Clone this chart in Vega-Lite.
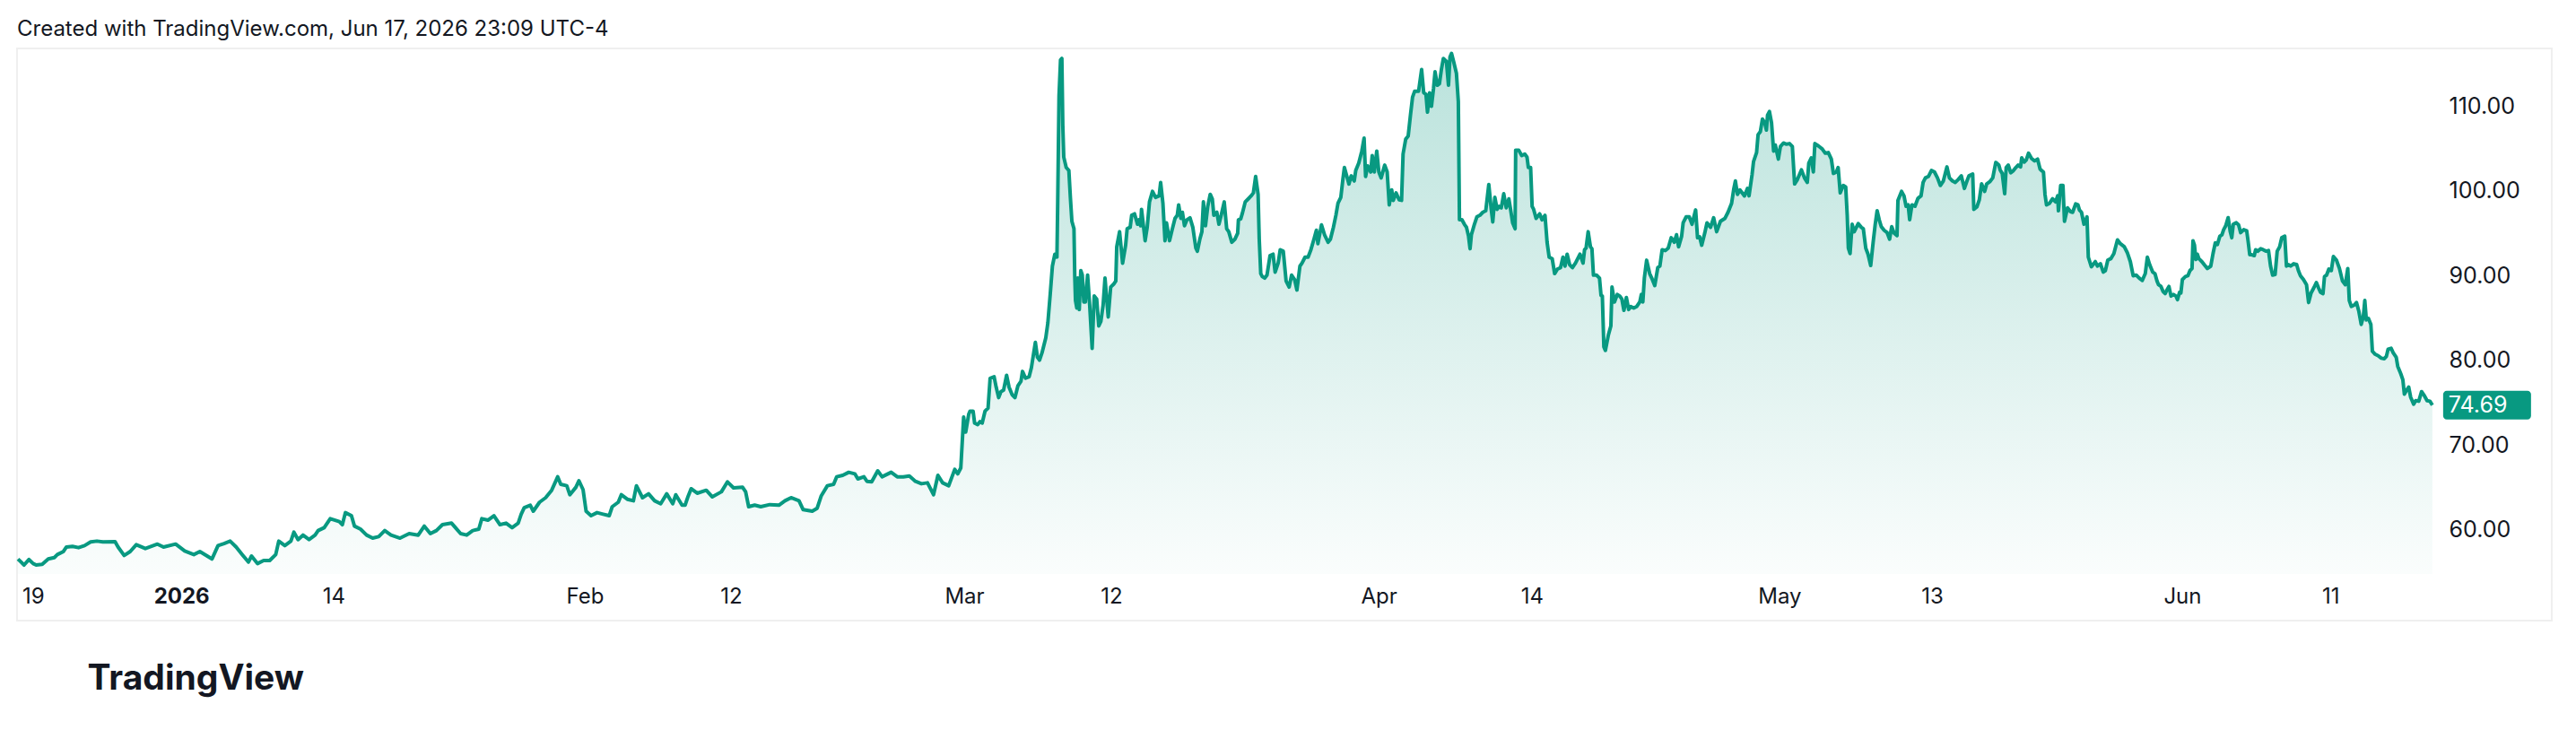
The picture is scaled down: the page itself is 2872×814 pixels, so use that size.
{
  "$schema": "https://vega.github.io/schema/vega-lite/v6.json",
  "description": "Price chart in the TradingView snapshot style: area under a teal line, price axis on the right.",
  "width": 2826,
  "height": 638,
  "autosize": {"type": "none"},
  "padding": {"left": 19, "top": 54, "right": 27, "bottom": 122},
  "background": "#ffffff",
  "title": {
    "text": "Created with TradingView.com, Jun 17, 2026 23:09 UTC-4",
    "anchor": "start",
    "frame": "group",
    "offset": 9,
    "font": "Inter",
    "fontSize": 24,
    "fontWeight": "normal",
    "color": "#131722"
  },
  "datasets": {
    "series": [
      {"t":0,"price":56.53},{"t":0.16,"price":56.17},{"t":0.32,"price":55.82},{"t":0.58,"price":56.46},{"t":0.8,"price":55.99},{"t":0.96,"price":55.82},{"t":1.28,"price":55.89},{"t":1.6,"price":56.53},{"t":1.92,"price":56.7},{"t":2.08,"price":57.05},{"t":2.4,"price":57.41},{"t":2.56,"price":57.94},{"t":2.88,"price":58.01},{"t":3.2,"price":57.87},{"t":3.52,"price":58.11},{"t":3.84,"price":58.54},{"t":4.17,"price":58.64},{"t":4.49,"price":58.54},{"t":5.13,"price":58.57},{"t":5.29,"price":57.94},{"t":5.61,"price":56.95},{"t":5.93,"price":57.41},{"t":6.25,"price":58.22},{"t":6.73,"price":57.76},{"t":7.37,"price":58.29},{"t":7.69,"price":57.94},{"t":8.33,"price":58.29},{"t":8.81,"price":57.48},{"t":9.29,"price":57.05},{"t":9.61,"price":57.41},{"t":10.25,"price":56.53},{"t":10.57,"price":58.11},{"t":10.89,"price":58.36},{"t":11.21,"price":58.64},{"t":11.53,"price":57.94},{"t":11.85,"price":57.05},{"t":12.18,"price":56.17},{"t":12.34,"price":56.88},{"t":12.66,"price":55.99},{"t":12.98,"price":56.35},{"t":13.3,"price":56.35},{"t":13.62,"price":57.05},{"t":13.78,"price":58.64},{"t":14.1,"price":58.11},{"t":14.42,"price":58.64},{"t":14.58,"price":59.7},{"t":14.8,"price":58.82},{"t":15.06,"price":59.35},{"t":15.38,"price":58.82},{"t":15.7,"price":59.35},{"t":15.86,"price":59.88},{"t":16.18,"price":60.23},{"t":16.5,"price":61.29},{"t":16.98,"price":60.94},{"t":17.14,"price":60.58},{"t":17.3,"price":62.0},{"t":17.62,"price":61.64},{"t":17.78,"price":60.41},{"t":18.1,"price":60.05},{"t":18.42,"price":59.35},{"t":18.74,"price":58.99},{"t":19.06,"price":59.17},{"t":19.38,"price":59.88},{"t":19.71,"price":59.35},{"t":20.19,"price":58.99},{"t":20.67,"price":59.52},{"t":21.15,"price":59.35},{"t":21.47,"price":60.41},{"t":21.79,"price":59.52},{"t":22.11,"price":59.88},{"t":22.43,"price":60.58},{"t":22.91,"price":60.76},{"t":23.39,"price":59.52},{"t":23.71,"price":59.35},{"t":24.03,"price":59.88},{"t":24.35,"price":60.05},{"t":24.51,"price":61.29},{"t":24.83,"price":61.11},{"t":25.15,"price":61.64},{"t":25.47,"price":60.58},{"t":25.79,"price":60.76},{"t":26.11,"price":60.23},{"t":26.43,"price":60.76},{"t":26.59,"price":61.82},{"t":26.75,"price":62.59},{"t":27.07,"price":62.88},{"t":27.23,"price":62.17},{"t":27.56,"price":63.23},{"t":27.88,"price":63.76},{"t":28.2,"price":64.64},{"t":28.52,"price":66.23},{"t":28.68,"price":65.34},{"t":29.0,"price":65.17},{"t":29.16,"price":64.11},{"t":29.48,"price":64.99},{"t":29.64,"price":65.77},{"t":29.86,"price":64.71},{"t":30.02,"price":62.17},{"t":30.28,"price":61.64},{"t":30.6,"price":62.0},{"t":30.92,"price":61.82},{"t":31.24,"price":61.64},{"t":31.4,"price":62.7},{"t":31.72,"price":63.23},{"t":31.88,"price":64.11},{"t":32.2,"price":63.58},{"t":32.52,"price":63.4},{"t":32.68,"price":65.17},{"t":33.0,"price":63.76},{"t":33.32,"price":64.22},{"t":33.64,"price":63.4},{"t":33.96,"price":63.05},{"t":34.28,"price":64.22},{"t":34.6,"price":63.05},{"t":34.76,"price":64.11},{"t":35.09,"price":62.88},{"t":35.25,"price":62.88},{"t":35.41,"price":63.93},{"t":35.57,"price":64.82},{"t":35.89,"price":64.29},{"t":36.37,"price":64.64},{"t":36.69,"price":63.86},{"t":37.17,"price":64.46},{"t":37.49,"price":65.63},{"t":37.81,"price":64.92},{"t":38.29,"price":64.99},{"t":38.45,"price":64.46},{"t":38.61,"price":62.7},{"t":38.93,"price":62.88},{"t":39.25,"price":62.7},{"t":39.73,"price":62.95},{"t":40.21,"price":62.88},{"t":40.53,"price":63.4},{"t":40.85,"price":63.76},{"t":41.27,"price":63.4},{"t":41.49,"price":62.35},{"t":41.97,"price":62.17},{"t":42.23,"price":62.52},{"t":42.45,"price":64.0},{"t":42.77,"price":65.17},{"t":43.1,"price":65.34},{"t":43.26,"price":66.23},{"t":43.58,"price":66.4},{"t":43.9,"price":66.76},{"t":44.22,"price":66.58},{"t":44.38,"price":65.98},{"t":44.7,"price":66.23},{"t":44.86,"price":65.7},{"t":45.11,"price":65.63},{"t":45.43,"price":66.93},{"t":45.66,"price":66.23},{"t":46.14,"price":66.76},{"t":46.46,"price":66.23},{"t":46.78,"price":66.23},{"t":47.1,"price":66.33},{"t":47.42,"price":65.7},{"t":47.74,"price":65.41},{"t":48.06,"price":65.52},{"t":48.38,"price":64.11},{"t":48.61,"price":66.4},{"t":48.86,"price":65.52},{"t":49.18,"price":65.17},{"t":49.5,"price":67.11},{"t":49.66,"price":66.58},{"t":49.82,"price":67.28},
      {"t":49.97,"price":73.28},{"t":50.08,"price":71.51},{"t":50.24,"price":73.63},{"t":50.31,"price":73.98},{"t":50.47,"price":73.98},{"t":50.55,"price":72.57},{"t":50.71,"price":72.39},{"t":50.84,"price":72.75},{"t":50.95,"price":72.57},{"t":51.1,"price":73.98},{"t":51.26,"price":74.33},{"t":51.37,"price":77.86},{"t":51.58,"price":78.04},{"t":51.69,"price":76.8},{"t":51.82,"price":75.57},{"t":51.94,"price":76.27},{"t":52.08,"price":76.45},{"t":52.24,"price":78.21},{"t":52.37,"price":76.8},{"t":52.53,"price":75.92},{"t":52.68,"price":75.57},{"t":52.84,"price":76.98},{"t":53.0,"price":77.51},{"t":53.08,"price":78.67},{"t":53.24,"price":77.86},{"t":53.43,"price":78.04},{"t":53.55,"price":79.1},{"t":53.76,"price":82.09},{"t":53.87,"price":80.33},{"t":53.98,"price":79.98},{"t":54.11,"price":80.86},{"t":54.31,"price":82.62},{"t":54.42,"price":84.39},{"t":54.55,"price":87.91},{"t":54.66,"price":91.09},{"t":54.79,"price":92.5},{"t":54.9,"price":92.15},{"t":54.94,"price":98.5},{"t":55.01,"price":111.2},{"t":55.09,"price":115.43},{"t":55.16,"price":115.6},{"t":55.21,"price":107.67},{"t":55.26,"price":103.96},{"t":55.39,"price":102.73},{"t":55.53,"price":102.38},{"t":55.61,"price":99.2},{"t":55.69,"price":96.38},{"t":55.8,"price":95.5},{"t":55.84,"price":90.03},{"t":55.88,"price":87.03},{"t":55.95,"price":86.15},{"t":56.0,"price":89.68},{"t":56.08,"price":85.97},{"t":56.16,"price":90.56},{"t":56.24,"price":90.03},{"t":56.32,"price":86.86},{"t":56.4,"price":86.86},{"t":56.52,"price":90.03},{"t":56.63,"price":86.5},{"t":56.76,"price":81.39},{"t":56.87,"price":87.56},{"t":57.0,"price":87.21},{"t":57.11,"price":84.03},{"t":57.22,"price":84.56},{"t":57.34,"price":86.5},{"t":57.44,"price":89.68},{"t":57.53,"price":87.21},{"t":57.61,"price":85.09},{"t":57.74,"price":88.62},{"t":57.9,"price":88.97},{"t":58.01,"price":89.33},{"t":58.06,"price":93.38},{"t":58.21,"price":95.15},{"t":58.37,"price":91.44},{"t":58.53,"price":93.56},{"t":58.61,"price":95.5},{"t":58.77,"price":95.68},{"t":58.85,"price":97.09},{"t":59.0,"price":97.26},{"t":59.16,"price":96.03},{"t":59.24,"price":96.56},{"t":59.32,"price":95.85},{"t":59.37,"price":97.79},{"t":59.48,"price":95.68},{"t":59.56,"price":94.09},{"t":59.67,"price":95.68},{"t":59.79,"price":98.67},{"t":59.95,"price":99.91},{"t":60.11,"price":99.2},{"t":60.3,"price":99.38},{"t":60.38,"price":100.97},{"t":60.5,"price":98.5},{"t":60.61,"price":94.09},{"t":60.69,"price":96.2},{"t":60.85,"price":94.09},{"t":60.98,"price":95.32},{"t":61.14,"price":96.73},{"t":61.26,"price":97.09},{"t":61.33,"price":98.32},{"t":61.45,"price":96.73},{"t":61.53,"price":97.44},{"t":61.64,"price":95.85},{"t":61.77,"price":96.56},{"t":61.93,"price":96.8},{"t":62.08,"price":95.68},{"t":62.24,"price":93.21},{"t":62.32,"price":92.85},{"t":62.45,"price":94.26},{"t":62.56,"price":95.15},{"t":62.64,"price":98.67},{"t":62.75,"price":95.85},{"t":62.87,"price":98.14},{"t":63.0,"price":99.56},{"t":63.11,"price":99.03},{"t":63.19,"price":97.09},{"t":63.35,"price":97.44},{"t":63.46,"price":96.03},{"t":63.58,"price":97.09},{"t":63.74,"price":98.67},{"t":63.87,"price":95.5},{"t":63.98,"price":95.15},{"t":64.14,"price":93.91},{"t":64.3,"price":94.26},{"t":64.45,"price":94.97},{"t":64.49,"price":96.56},{"t":64.61,"price":96.66},{"t":64.69,"price":97.26},{"t":64.85,"price":98.67},{"t":65.01,"price":99.03},{"t":65.16,"price":99.38},{"t":65.28,"price":99.73},{"t":65.4,"price":101.67},{"t":65.53,"price":99.56},{"t":65.59,"price":94.26},{"t":65.67,"price":90.21},{"t":65.75,"price":89.86},{"t":65.88,"price":89.68},{"t":66.0,"price":90.03},{"t":66.16,"price":92.32},{"t":66.32,"price":92.5},{"t":66.43,"price":90.38},{"t":66.59,"price":91.44},{"t":66.7,"price":93.03},{"t":66.86,"price":92.85},{"t":67.01,"price":89.33},{"t":67.17,"price":88.62},{"t":67.3,"price":90.03},{"t":67.46,"price":89.5},{"t":67.58,"price":88.27},{"t":67.74,"price":91.09},{"t":67.85,"price":91.44},{"t":68.01,"price":92.15},{"t":68.17,"price":92.15},{"t":68.32,"price":93.03},{"t":68.48,"price":94.26},{"t":68.61,"price":95.32},{"t":68.69,"price":93.74},{"t":68.88,"price":95.96},{"t":69.04,"price":94.79},{"t":69.23,"price":93.91},{"t":69.35,"price":94.26},{"t":69.51,"price":95.68},{"t":69.64,"price":97.09},{"t":69.75,"price":98.5},{"t":69.9,"price":99.2},{"t":70.01,"price":101.32},
      {"t":70.09,"price":102.73},{"t":70.22,"price":101.67},{"t":70.33,"price":100.79},{"t":70.45,"price":101.74},{"t":70.61,"price":101.14},{"t":70.69,"price":102.38},{"t":70.85,"price":103.26},{"t":71.01,"price":104.67},{"t":71.13,"price":106.19},{"t":71.21,"price":101.67},{"t":71.32,"price":102.91},{"t":71.48,"price":102.2},{"t":71.56,"price":104.14},{"t":71.67,"price":102.2},{"t":71.8,"price":104.67},{"t":71.91,"price":102.2},{"t":72.03,"price":101.5},{"t":72.22,"price":103.01},{"t":72.35,"price":102.2},{"t":72.46,"price":98.32},{"t":72.59,"price":100.08},{"t":72.67,"price":98.85},{"t":72.82,"price":99.73},{"t":72.98,"price":98.92},{"t":73.11,"price":98.85},{"t":73.19,"price":104.32},{"t":73.33,"price":106.08},{"t":73.46,"price":106.43},{"t":73.58,"price":108.9},{"t":73.69,"price":111.02},{"t":73.8,"price":111.72},{"t":74.01,"price":111.72},{"t":74.17,"price":114.3},{"t":74.28,"price":111.55},{"t":74.4,"price":111.37},{"t":74.48,"price":109.26},{"t":74.59,"price":111.55},{"t":74.69,"price":109.96},{"t":74.8,"price":112.08},{"t":74.88,"price":114.02},{"t":75.0,"price":112.43},{"t":75.11,"price":112.61},{"t":75.22,"price":114.37},{"t":75.32,"price":115.6},{"t":75.48,"price":115.25},{"t":75.59,"price":112.43},{"t":75.67,"price":115.78},{"t":75.75,"price":116.2},{"t":75.86,"price":115.25},{"t":76.01,"price":113.84},{"t":76.11,"price":110.49},{"t":76.17,"price":96.56},{"t":76.3,"price":96.56},{"t":76.43,"price":96.03},{"t":76.54,"price":95.68},{"t":76.65,"price":94.62},{"t":76.73,"price":93.14},{"t":76.8,"price":94.79},{"t":76.96,"price":96.03},{"t":77.09,"price":96.91},{"t":77.25,"price":97.09},{"t":77.4,"price":97.44},{"t":77.56,"price":97.62},{"t":77.72,"price":100.72},{"t":77.85,"price":97.79},{"t":77.93,"price":96.31},{"t":78.04,"price":99.2},{"t":78.16,"price":97.79},{"t":78.27,"price":98.14},{"t":78.38,"price":97.97},{"t":78.51,"price":99.63},{"t":78.64,"price":97.97},{"t":78.78,"price":99.03},{"t":78.87,"price":97.79},{"t":78.98,"price":96.2},{"t":79.11,"price":95.5},{"t":79.14,"price":104.78},{"t":79.3,"price":104.78},{"t":79.46,"price":104.14},{"t":79.62,"price":104.32},{"t":79.74,"price":103.96},{"t":79.81,"price":102.73},{"t":79.93,"price":102.73},{"t":80.01,"price":98.14},{"t":80.09,"price":97.79},{"t":80.22,"price":96.73},{"t":80.41,"price":97.26},{"t":80.53,"price":96.56},{"t":80.69,"price":97.09},{"t":80.8,"price":93.91},{"t":80.91,"price":92.15},{"t":81.07,"price":91.97},{"t":81.2,"price":90.21},{"t":81.35,"price":90.74},{"t":81.51,"price":90.91},{"t":81.64,"price":92.15},{"t":81.75,"price":91.09},{"t":81.86,"price":92.5},{"t":81.99,"price":91.27},{"t":82.14,"price":90.91},{"t":82.3,"price":91.44},{"t":82.54,"price":92.5},{"t":82.7,"price":91.44},{"t":82.78,"price":93.03},{"t":82.86,"price":93.21},{"t":82.97,"price":95.15},{"t":83.09,"price":93.38},{"t":83.17,"price":93.14},{"t":83.25,"price":90.03},{"t":83.41,"price":90.03},{"t":83.57,"price":89.68},{"t":83.65,"price":87.63},{"t":83.72,"price":87.56},{"t":83.8,"price":81.57},{"t":83.88,"price":81.14},{"t":84.04,"price":82.98},{"t":84.17,"price":84.03},{"t":84.23,"price":88.62},{"t":84.36,"price":86.86},{"t":84.51,"price":87.74},{"t":84.64,"price":87.56},{"t":84.75,"price":87.21},{"t":84.86,"price":85.87},{"t":84.99,"price":87.39},{"t":85.11,"price":85.97},{"t":85.22,"price":86.33},{"t":85.38,"price":86.15},{"t":85.54,"price":86.33},{"t":85.7,"price":86.86},{"t":85.78,"price":87.74},{"t":85.86,"price":86.86},{"t":85.94,"price":89.68},{"t":86.06,"price":91.79},{"t":86.22,"price":90.21},{"t":86.33,"price":89.68},{"t":86.49,"price":88.8},{"t":86.65,"price":90.91},{"t":86.76,"price":91.09},{"t":86.88,"price":93.03},{"t":87.04,"price":92.92},{"t":87.2,"price":93.21},{"t":87.36,"price":94.44},{"t":87.52,"price":93.91},{"t":87.64,"price":94.79},{"t":87.75,"price":93.38},{"t":87.91,"price":94.62},{"t":87.99,"price":96.2},{"t":88.15,"price":96.91},{"t":88.31,"price":96.91},{"t":88.46,"price":96.03},{"t":88.65,"price":97.72},{"t":88.75,"price":94.44},{"t":88.86,"price":94.55},{"t":88.97,"price":93.56},{"t":89.13,"price":94.97},{"t":89.25,"price":96.2},{"t":89.44,"price":95.68},{"t":89.6,"price":96.8},{"t":89.76,"price":95.15},{"t":89.96,"price":96.38},{"t":90.2,"price":96.73},{"t":90.36,"price":97.44},{"t":90.55,"price":98.5},{"t":90.67,"price":100.26},{"t":90.75,"price":101.14},{"t":90.86,"price":99.56},{"t":90.99,"price":100.08},{"t":91.23,"price":99.38},{"t":91.39,"price":100.26},
      {"t":91.47,"price":99.38},{"t":91.63,"price":101.85},{"t":91.71,"price":103.44},{"t":91.87,"price":104.49},{"t":91.95,"price":106.61},{"t":92.07,"price":106.96},{"t":92.18,"price":108.45},{"t":92.3,"price":108.02},{"t":92.39,"price":107.14},{"t":92.45,"price":108.9},{"t":92.55,"price":109.33},{"t":92.66,"price":108.02},{"t":92.77,"price":104.67},{"t":92.86,"price":105.38},{"t":93.02,"price":103.72},{"t":93.13,"price":105.2},{"t":93.29,"price":105.62},{"t":93.45,"price":105.48},{"t":93.61,"price":105.55},{"t":93.76,"price":105.2},{"t":93.88,"price":100.79},{"t":94.03,"price":101.32},{"t":94.24,"price":102.45},{"t":94.4,"price":101.5},{"t":94.55,"price":100.97},{"t":94.63,"price":103.26},{"t":94.76,"price":103.86},{"t":94.87,"price":102.2},{"t":94.95,"price":105.55},{"t":95.14,"price":105.27},{"t":95.34,"price":104.92},{"t":95.5,"price":104.42},{"t":95.66,"price":104.49},{"t":95.82,"price":103.72},{"t":95.93,"price":102.03},{"t":96.09,"price":102.2},{"t":96.18,"price":102.73},{"t":96.29,"price":99.73},{"t":96.45,"price":100.61},{"t":96.58,"price":100.44},{"t":96.66,"price":97.09},{"t":96.72,"price":93.21},{"t":96.81,"price":92.57},{"t":96.92,"price":96.03},{"t":97.03,"price":95.15},{"t":97.24,"price":96.1},{"t":97.4,"price":95.68},{"t":97.51,"price":95.5},{"t":97.64,"price":93.21},{"t":97.76,"price":92.5},{"t":97.9,"price":91.16},{"t":98.03,"price":93.91},{"t":98.14,"price":96.03},{"t":98.24,"price":97.62},{"t":98.35,"price":96.56},{"t":98.46,"price":95.75},{"t":98.61,"price":95.32},{"t":98.77,"price":95.04},{"t":98.9,"price":94.27},{"t":99.01,"price":95.75},{"t":99.14,"price":94.97},{"t":99.29,"price":94.69},{"t":99.34,"price":98.85},{"t":99.53,"price":99.91},{"t":99.66,"price":99.38},{"t":99.77,"price":98.15},{"t":99.88,"price":98.32},{"t":99.96,"price":96.56},{"t":100.08,"price":98.32},{"t":100.24,"price":98.15},{"t":100.4,"price":99.1},{"t":100.56,"price":99.38},{"t":100.67,"price":100.97},{"t":100.79,"price":101.5},{"t":100.95,"price":101.67},{"t":101.11,"price":102.38},{"t":101.27,"price":102.2},{"t":101.43,"price":101.5},{"t":101.58,"price":100.61},{"t":101.74,"price":101.14},{"t":101.93,"price":102.8},{"t":102.06,"price":101.5},{"t":102.22,"price":101.14},{"t":102.37,"price":100.97},{"t":102.53,"price":101.32},{"t":102.69,"price":101.74},{"t":102.85,"price":100.26},{"t":102.97,"price":101.04},{"t":103.09,"price":101.74},{"t":103.29,"price":101.95},{"t":103.35,"price":97.79},{"t":103.51,"price":98.07},{"t":103.64,"price":98.92},{"t":103.76,"price":100.79},{"t":103.92,"price":99.91},{"t":104.03,"price":100.79},{"t":104.19,"price":101.04},{"t":104.35,"price":101.5},{"t":104.51,"price":103.33},{"t":104.67,"price":103.01},{"t":104.74,"price":102.45},{"t":104.85,"price":102.03},{"t":104.98,"price":99.63},{"t":105.06,"price":102.73},{"t":105.17,"price":103.01},{"t":105.3,"price":102.1},{"t":105.42,"price":102.31},{"t":105.57,"price":102.73},{"t":105.69,"price":103.01},{"t":105.82,"price":102.8},{"t":105.88,"price":103.86},{"t":106.01,"price":103.37},{"t":106.12,"price":103.61},{"t":106.24,"price":104.42},{"t":106.4,"price":103.79},{"t":106.56,"price":103.51},{"t":106.72,"price":103.72},{"t":106.85,"price":102.55},{"t":106.96,"price":102.31},{"t":107.03,"price":102.2},{"t":107.11,"price":99.56},{"t":107.19,"price":98.32},{"t":107.35,"price":98.5},{"t":107.51,"price":99.03},{"t":107.67,"price":98.67},{"t":107.78,"price":99.38},{"t":107.82,"price":97.62},{"t":107.94,"price":100.61},{"t":108.06,"price":100.61},{"t":108.14,"price":96.38},{"t":108.3,"price":97.97},{"t":108.46,"price":97.51},{"t":108.57,"price":97.44},{"t":108.73,"price":98.43},{"t":108.85,"price":98.32},{"t":108.93,"price":97.72},{"t":109.04,"price":97.44},{"t":109.17,"price":96.03},{"t":109.33,"price":96.91},{"t":109.4,"price":92.15},{"t":109.56,"price":91.02},{"t":109.77,"price":91.62},{"t":109.88,"price":91.09},{"t":110.04,"price":91.37},{"t":110.19,"price":90.39},{"t":110.3,"price":90.56},{"t":110.43,"price":91.8},{"t":110.59,"price":91.97},{"t":110.75,"price":92.57},{"t":110.94,"price":94.19},{"t":111.09,"price":93.74},{"t":111.3,"price":93.38},{"t":111.46,"price":92.68},{"t":111.62,"price":91.62},{"t":111.77,"price":89.96},{"t":111.93,"price":90.03},{"t":112.09,"price":89.68},{"t":112.25,"price":89.4},{"t":112.41,"price":90.21},{"t":112.52,"price":92.15},{"t":112.64,"price":91.27},{"t":112.8,"price":90.39},
      {"t":112.92,"price":90.21},{"t":113.03,"price":89.33},{"t":113.11,"price":88.9},{"t":113.24,"price":88.69},{"t":113.35,"price":88.09},{"t":113.46,"price":87.85},{"t":113.55,"price":88.27},{"t":113.66,"price":88.69},{"t":113.77,"price":87.56},{"t":113.9,"price":87.74},{"t":114.03,"price":87.56},{"t":114.11,"price":87.14},{"t":114.22,"price":87.99},{"t":114.29,"price":87.92},{"t":114.37,"price":89.5},{"t":114.53,"price":89.86},{"t":114.66,"price":89.96},{"t":114.77,"price":90.56},{"t":114.88,"price":90.81},{"t":114.93,"price":94.09},{"t":115.01,"price":93.56},{"t":115.08,"price":91.87},{"t":115.16,"price":92.5},{"t":115.24,"price":91.97},{"t":115.4,"price":91.62},{"t":115.56,"price":91.16},{"t":115.69,"price":90.81},{"t":115.87,"price":91.09},{"t":115.99,"price":92.57},{"t":116.11,"price":93.84},{"t":116.22,"price":93.63},{"t":116.35,"price":94.62},{"t":116.46,"price":94.79},{"t":116.55,"price":95.39},{"t":116.66,"price":95.85},{"t":116.79,"price":96.81},{"t":116.9,"price":95.15},{"t":116.98,"price":94.44},{"t":117.06,"price":96.03},{"t":117.22,"price":96.21},{"t":117.34,"price":95.96},{"t":117.45,"price":95.04},{"t":117.61,"price":95.39},{"t":117.77,"price":95.25},{"t":117.85,"price":93.91},{"t":117.93,"price":92.43},{"t":118.04,"price":92.43},{"t":118.17,"price":92.33},{"t":118.24,"price":93.03},{"t":118.35,"price":92.85},{"t":118.51,"price":93.14},{"t":118.64,"price":93.03},{"t":118.8,"price":92.85},{"t":118.92,"price":92.93},{"t":119.03,"price":91.09},{"t":119.14,"price":90.03},{"t":119.27,"price":90.1},{"t":119.38,"price":92.85},{"t":119.51,"price":93.38},{"t":119.62,"price":94.44},{"t":119.78,"price":94.62},{"t":119.87,"price":91.09},{"t":119.98,"price":91.27},{"t":120.09,"price":91.09},{"t":120.25,"price":91.37},{"t":120.41,"price":91.27},{"t":120.5,"price":90.56},{"t":120.61,"price":89.96},{"t":120.77,"price":89.5},{"t":120.93,"price":88.9},{"t":121.04,"price":86.79},{"t":121.17,"price":87.92},{"t":121.32,"price":88.55},{"t":121.45,"price":89.15},{"t":121.56,"price":88.55},{"t":121.67,"price":87.99},{"t":121.8,"price":87.85},{"t":121.88,"price":89.86},{"t":121.99,"price":90.03},{"t":122.11,"price":90.74},{"t":122.24,"price":90.56},{"t":122.35,"price":92.22},{"t":122.51,"price":91.8},{"t":122.67,"price":90.81},{"t":122.83,"price":89.33},{"t":122.98,"price":88.9},{"t":123.11,"price":90.81},{"t":123.19,"price":87.03},{"t":123.3,"price":86.33},{"t":123.46,"price":86.51},{"t":123.57,"price":86.79},{"t":123.69,"price":85.8},{"t":123.82,"price":84.21},{"t":123.93,"price":85.09},{"t":124.01,"price":87.03},{"t":124.09,"price":84.74},{"t":124.2,"price":84.92},{"t":124.33,"price":84.21},{"t":124.41,"price":81.04},{"t":124.56,"price":80.69},{"t":124.72,"price":80.51},{"t":124.88,"price":80.23},{"t":125.04,"price":80.16},{"t":125.15,"price":80.44},{"t":125.24,"price":81.28},{"t":125.4,"price":81.39},{"t":125.51,"price":80.86},{"t":125.67,"price":80.33},{"t":125.75,"price":79.27},{"t":125.91,"price":78.39},{"t":126.02,"price":77.69},{"t":126.1,"price":75.99},{"t":126.22,"price":76.45},{"t":126.33,"price":76.81},{"t":126.43,"price":75.64},{"t":126.59,"price":74.79},{"t":126.7,"price":75.22},{"t":126.86,"price":75.15},{"t":127.01,"price":76.28},{"t":127.17,"price":75.75},{"t":127.3,"price":75.22},{"t":127.45,"price":75.15},{"t":127.58,"price":74.69}
    ],
    "last": [{"t": 127.58, "price": 74.69}]
  },
  "encoding": {
    "x": {
      "field": "t",
      "type": "quantitative",
      "scale": {"domain": [-0.05, 133.89], "nice": false, "zero": false},
      "axis": {
        "offset": -52,
        "values": [0.8, 8.63, 16.68, 29.95, 37.68, 50.0, 57.77, 71.9, 80.0, 93.08, 101.14, 114.36, 122.2],
        "labelExpr": "datum.value < 1 ? '19' : datum.value < 9 ? '2026' : datum.value < 17 ? '14' : datum.value < 30 ? 'Feb' : datum.value < 38 ? '12' : datum.value < 51 ? 'Mar' : datum.value < 58 ? '12' : datum.value < 72 ? 'Apr' : datum.value < 81 ? '14' : datum.value < 94 ? 'May' : datum.value < 102 ? '13' : datum.value < 115 ? 'Jun' : '11'",
        "labelFontWeight": {"condition": {"test": "datum.value > 8 && datum.value < 9", "value": "bold"}, "value": "normal"},
        "labelFont": "Inter",
        "labelFontSize": 24,
        "labelColor": "#131722",
        "labelPadding": 13,
        "labelFlush": false,
        "labelOverlap": false,
        "ticks": false,
        "domain": false,
        "grid": false,
        "title": "TradingView",
        "titleFont": "Inter",
        "titleFontSize": 39,
        "titleFontWeight": "bold",
        "titleColor": "#131722",
        "titleAlign": "left",
        "titleBaseline": "alphabetic",
        "titleX": 78,
        "titleY": 128
      }
    },
    "y": {
      "field": "price",
      "type": "quantitative",
      "scale": {"domain": [49.26, 116.78], "nice": false, "zero": false},
      "axis": {
        "orient": "right",
        "offset": -129,
        "values": [60, 70, 80, 90, 100, 110],
        "format": ".2f",
        "labelAlign": "left",
        "labelFont": "Inter",
        "labelFontSize": 25,
        "labelColor": "#131722",
        "labelPadding": 14,
        "ticks": false,
        "domain": false,
        "grid": false,
        "title": null
      }
    }
  },
  "layer": [
    {
      "data": {"name": "series"},
      "mark": {
        "type": "area",
        "color": {
          "gradient": "linear",
          "x1": 0, "y1": 0, "x2": 0, "y2": 1,
          "stops": [
            {"offset": 0, "color": "rgba(8,153,129,0.28)"},
            {"offset": 1, "color": "rgba(8,153,129,0.02)"}
          ]
        }
      },
      "encoding": {"y2": {"datum": 54.76}}
    },
    {
      "data": {"name": "series"},
      "mark": {"type": "line", "color": "#089981", "strokeWidth": 4, "strokeJoin": "round"},
      "encoding": {}
    },
    {
      "data": {"name": "last"},
      "mark": {"type": "rect", "color": "#089981", "cornerRadius": 4, "height": 32, "xOffset": 12, "x2Offset": 110},
      "encoding": {"x2": {"field": "t"}}
    },
    {
      "data": {"name": "last"},
      "mark": {"type": "text", "align": "left", "baseline": "middle", "color": "#ffffff", "font": "Inter", "fontSize": 25, "dx": 18},
      "encoding": {
        "text": {"field": "price", "type": "quantitative", "format": ".2f"}
      }
    }
  ],
  "config": {"view": {"stroke": "#efefef", "strokeWidth": 2}}
}
